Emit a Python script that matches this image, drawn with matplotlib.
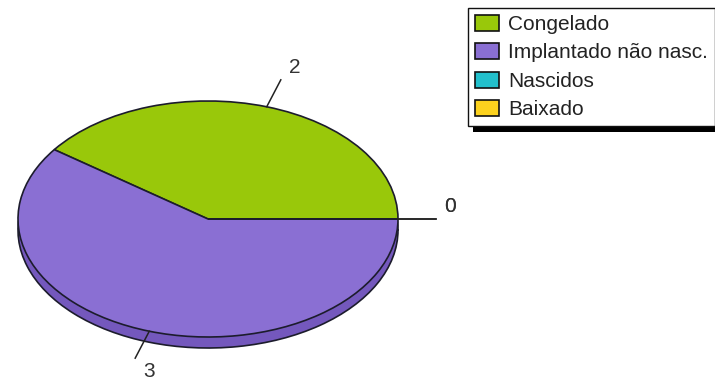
import numpy as np
import matplotlib
matplotlib.use('Agg')
import matplotlib.pyplot as plt
from matplotlib.patches import Rectangle

plt.rcParams['font.family'] = ['Liberation Sans', 'DejaVu Sans']

# ---- dados ----
categorias = ['Congelado', 'Implantado não nasc.', 'Nascidos', 'Baixado']
valores = [2, 3, 0, 0]
cores = ['#99c80a', '#8a6fd3', '#22c0cc', '#fcd21e']
cores_lado = ['#7ca208', '#7458bd', '#1a9aa4', '#d4b010']

W, H = 715, 384
fig = plt.figure(figsize=(W / 100, H / 100), dpi=100)

# eixo cobrindo a figura toda; elipse: x 18..398, y 101..337 (px)
cx, cy, rx, ry = 208, 219, 190, 118
ax = fig.add_axes([0, 0, 1, 1])
ax.patch.set_alpha(0)
prof = 11 / ry   # profundidade do 3D

borda = dict(edgecolor='#1c1c2c', linewidth=1.2)

# base (lado do 3D)
ax.pie(valores, colors=cores_lado, startangle=0, counterclock=True,
       center=(0, -prof), radius=1, wedgeprops=borda)
# topo
wedges, _ = ax.pie(valores, colors=cores, startangle=0, counterclock=True,
                   center=(0, 0), radius=1, wedgeprops=borda)

ax.set_aspect('auto')
ax.set_xlim(-cx / rx, (W - cx) / rx)
ax.set_ylim(-(H - cy) / ry, cy / ry)
ax.axis('off')

# rótulos com linhas de chamada
total = sum(valores)
ang0 = 0.0
for v in valores:
    frac = v / total * 360
    th = np.deg2rad(ang0 + frac / 2)
    ang0 += frac
    c, s = np.cos(th), np.sin(th)
    if abs(s) < 1e-6:
        s = 0.0
    r_fim = 1.2 if s == 0 else 1.24
    ax.plot([c, r_fim * c], [s, r_fim * s], color='#222222', lw=1.1, clip_on=False, zorder=5)
    acima = s >= 0
    ax.annotate(str(v), xy=(r_fim * c, r_fim * s),
                xytext=(6, 2 if acima else -3), textcoords='offset points',
                ha='left', va='bottom' if acima else 'top',
                fontsize=15, color='#333333')

# legenda
leg = fig.legend(wedges, categorias, loc='upper left',
                 bbox_to_anchor=(468 / W, 1 - 8 / H), bbox_transform=fig.transFigure,
                 borderaxespad=0, fontsize=15, frameon=True, fancybox=False,
                 facecolor='white', framealpha=1,
                 handlelength=1.15, handleheight=0.8, handletextpad=0.45,
                 labelspacing=0.44, borderpad=0.33)
leg.get_frame().set_edgecolor('#111111')
leg.get_frame().set_linewidth(1.0)
for t in leg.get_texts():
    t.set_color('#222222')
for h in leg.legend_handles:
    h.set_edgecolor('#111111')
    h.set_linewidth(1.2)

# sombra da legenda
fig.canvas.draw()
bb = leg.get_window_extent()
fig.patches.append(Rectangle((bb.x0 + 5, bb.y0 - 6), bb.width, bb.height,
                             transform=None, facecolor='black', edgecolor='none',
                             zorder=-1, figure=fig))

fig.savefig('out.png', dpi=100, facecolor='white')
